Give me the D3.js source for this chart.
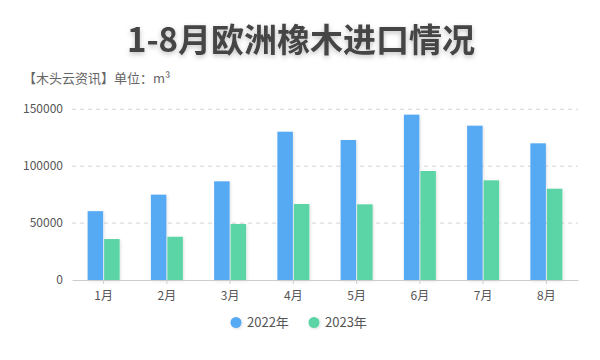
<!DOCTYPE html>
<html><head><meta charset="utf-8">
<script src="https://cdn.jsdelivr.net/npm/d3@7"></script>
<style>
html,body{margin:0;padding:0;background:#fff;}
text{font-family:"Noto Sans CJK SC","Noto Sans",sans-serif;}
</style></head>
<body><svg id="c" width="600" height="360"></svg>
<script>
const categories = ["1月","2月","3月","4月","5月","6月","7月","8月"];
const seriesNames = ["2022年","2023年"];
const values2022 = [60500, 75000, 86700, 130300, 123000, 145300, 135600, 120100];
const values2023 = [36000, 38000, 49200, 66800, 66500, 95800, 87600, 80200];
const yTicks = [0, 50000, 100000, 150000];
const colors = ["#57a9f3", "#5cd5a6"];

(function(){
const svg = d3.select("#c");
const defs = svg.append("defs");
const f = defs.append("filter").attr("id","ts").attr("x","-10%").attr("y","-30%").attr("width","120%").attr("height","160%");
f.append("feDropShadow").attr("dx",0).attr("dy",2).attr("stdDeviation",2.5).attr("flood-color","#000").attr("flood-opacity",0.25);
const fb = defs.append("filter").attr("id","bs").attr("x","-30%").attr("y","-10%").attr("width","160%").attr("height","120%");
fb.append("feDropShadow").attr("dx",1).attr("dy",1).attr("stdDeviation",1.5).attr("flood-color","#000").attr("flood-opacity",0.12);

svg.append("text").attr("x",301).attr("y",52).attr("text-anchor","middle")
  .attr("font-size",33).attr("font-weight","bold").attr("fill","#444").attr("filter","url(#ts)")
  .text("1-8月欧洲橡木进口情况");
svg.append("text").attr("x",23).attr("y",82.5).attr("font-size",13).attr("fill","#666")
  .text("【木头云资讯】单位：m³");

const pl = 72, pr = 578, pt = 109.3, pb = 280;
const x = d3.scaleBand().domain(categories).range([pl,pr]);
const y = d3.scaleLinear().domain([0,150000]).range([pb,pt]);

svg.append("g").selectAll("line").data(yTicks.filter(d=>d>0)).join("line")
  .attr("x1",pl).attr("x2",pr).attr("y1",d=>y(d)).attr("y2",d=>y(d))
  .attr("stroke","#d4d4d4").attr("stroke-dasharray","4,4").attr("stroke-width",1);

svg.append("g").selectAll("text").data(yTicks).join("text")
  .attr("x",63).attr("y",d=>y(d)+4).attr("text-anchor","end")
  .attr("font-size",12).attr("fill","#555").text(d=>d);

const bw = 15.5;
const all = [values2022, values2023];
all.forEach((vals,i)=>{
  svg.append("g").attr("filter","url(#bs)").selectAll("rect").data(vals).join("rect")
    .attr("x",(d,j)=>x(categories[j]) + x.bandwidth()/2 + (i===0 ? -bw-0.5 : 0.5))
    .attr("width",bw)
    .attr("y",d=>y(d)).attr("height",d=>pb-y(d))
    .attr("fill",colors[i]);
});

const xa = svg.append("g").attr("transform",`translate(0,${pb})`)
  .call(d3.axisBottom(x).tickSize(4).tickSizeOuter(0));
xa.select(".domain").attr("stroke","#ccc");
xa.selectAll(".tick line").attr("stroke","#ccc");
xa.selectAll(".tick text").attr("font-size",12).attr("fill","#555").attr("dy","1.1em")
  .attr("font-family","\"Noto Sans CJK SC\",sans-serif");

const lg = svg.append("g");
const lx = [236, 314];
seriesNames.forEach((n,i)=>{
  lg.append("circle").attr("cx",lx[i]).attr("cy",322.5).attr("r",5.5).attr("fill",colors[i]).attr("filter","url(#bs)");
  lg.append("text").attr("x",lx[i]+11).attr("y",327).attr("font-size",13).attr("fill","#555").text(n);
});
})();
</script></body></html>
